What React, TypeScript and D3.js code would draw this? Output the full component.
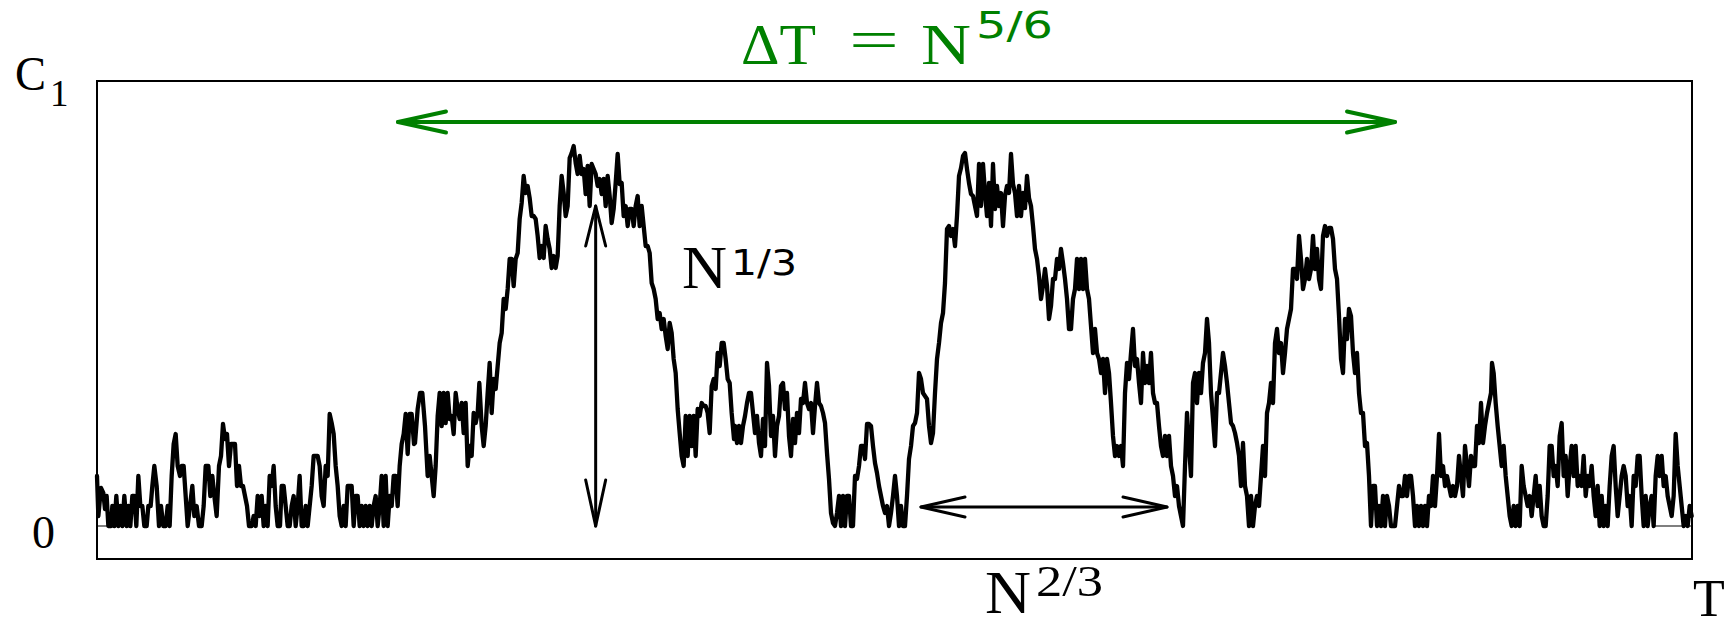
import React from "react";
import * as d3 from "d3";

const W = 1729;
const H = 627;

// Length of the recorded time window
const T_MAX = 4785;

// C1(T) trace, stored as [T, C1] vertices, stretch by stretch
const quietLead: [number, number][] = [
  [0,5],[4,1],[12,3.8],[19,3.3],[24,1.7],[29,3],[34,0],[42,0],[46,2],[52,0],[58,3],[64,0],[70,2],[76,0],[82,3],[89,0],[94,2],[100,0],[106,3],[112,3],[118,0],[124,5],[130,2],[136,2],[142,0],[149,0],[154,2],[161,2],[166,4],[172,6],[179,4],[186,0],[192,2],[199,0],[206,0],[212,2],[218,0],[224,5],[230,8.2],[236,9.2],[242,6],[249,5],[254,6],[260,6],[266,3],[272,0],[279,2],[286,4],[292,1],[299,2],[306,0],[314,0],[320,2],[326,6],[334,6],[340,3],[346,5],[352,3],[359,1],[366,6],[372,7],[378,10.2],[384,8.7],[390,9.2],[396,6],[402,8.2],[408,8.2],[414,8.2],[420,4],[426,6],[432,4],[438,4],[444,3],[450,2],[456,0],[464,0],[470,1],[476,0],[482,3],[488,1],[494,3],[500,0],[506,2],[512,0],[518,5],[524,4],[530,6],[536,2],[542,0],[549,0],[554,4],[560,4],[566,2],[572,0],[578,0],[584,2],[590,3],[596,0],[602,2],[608,5],[614,0],[620,0],[626,2],[632,0],[638,2],[644,4],[650,7],[656,7],[662,7],[668,6],[674,3],[680,2],[686,6],[692,5],[698,11.2],[704,10.3],[710,9.2],[716,6],[722,4],[728,1],[734,0],[740,2],[746,0],[752,4],[758,4],[764,4],[770,0],[776,3],[782,3],[788,0],[794,2],[800,0],[806,2],[812,0],[818,2],[824,0],[830,2],[836,3],[842,0],[848,2],[854,5],[860,0],[866,5],[872,0],[878,3],[884,2],[890,5],[896,5],[902,2],[908,6],[914,8.2],[920,9.2],[926,11.2],[932,7.2],[938,11.2],[944,11.2],[951,8.2],
];

const firstHump: [number, number][] = [
  [954,8.3],[962,11.7],[969,13.3],[976,13.3],[984,10],[992,5],[998,7],[1004,5],[1010,3],[1016,6],[1022,11],[1028,13.3],[1034,10],[1040,13.3],[1046,10.3],[1052,13.3],[1058,10.7],[1064,11],[1070,9.2],[1076,13.3],[1082,11.7],[1088,10.7],[1094,12.3],[1100,9.3],[1106,12.3],[1112,6],[1118,8],[1124,7],[1130,11.3],[1136,10.3],[1142,11.3],[1147,14.3],[1154,10],[1160,8],[1166,10],[1172,13.3],[1178,16.3],[1184,11.3],[1190,14.7],[1196,13.7],[1202,16],[1208,18.3],[1214,19.3],[1220,22.7],[1226,21.7],[1232,23.7],[1238,26.7],[1244,26.7],[1250,24],[1256,26.7],[1262,27.3],[1268,30.7],[1274,32.3],[1280,35],[1286,33.3],[1292,34],[1298,32.8],[1304,31],[1310,31],[1316,30.7],[1322,29],[1328,26.8],[1334,28],[1340,26.8],[1346,30],[1352,28.7],[1358,27.7],[1364,25.8],[1370,27],[1376,25.8],[1382,27],[1388,32],[1394,35],[1400,33.3],[1406,31],[1412,32],[1418,36.8],[1424,37.3],[1430,38],[1436,36.3],[1442,35.2],[1448,37],[1454,35.2],[1460,35.7],[1466,33.2],[1472,36],[1478,32],[1484,36.2],[1490,35.7],[1496,35.2],[1502,34],[1508,34.7],[1514,33.2],[1520,34.7],[1526,32],[1532,35],[1538,33],[1544,30.3],[1550,31.7],[1556,34.3],[1562,37.2],[1568,34.2],[1574,34.3],[1580,31],[1586,32],[1592,30],[1598,31.7],[1604,31.7],[1610,30],[1616,32],[1622,33],[1628,30],[1634,32],[1640,30],[1646,28],[1652,28],[1658,27.3],[1664,24.3],[1670,23.7],[1676,22.7],[1682,20.7],[1688,21.3],[1694,19.7],[1700,20.7],[1706,19],[1712,17.7],[1718,20.3],[1724,19.3],[1730,16.7],[1736,15.3],[1742,11.7],[1748,9.3],[1754,7],[1760,6],[1766,11],[1772,7],[1778,11],[1784,8],[1790,11],[1796,7],[1802,11.7],[1808,11],[1814,12.3],[1820,12],[1826,12],[1832,11.3],[1838,9.3],[1844,14],[1850,14.7],[1856,13.7],[1862,17.3],[1868,16],[1874,18.3],[1880,18.3],[1886,16.7],[1892,14.7],[1898,14.3],[1904,11.3],[1911,8.7],
];

const secondHump: [number, number][] = [
  [1914,10],[1920,8.3],[1926,10],[1932,8.3],[1938,10],[1944,11],[1950,12.3],[1956,13.3],[1962,13.3],[1968,11.3],[1974,9.3],[1980,11],[1986,8.3],[1992,7],[1998,10.7],[2004,8],[2010,16.3],[2016,14],[2022,9],[2028,11],[2034,7],[2040,10],[2046,11],[2052,14],[2058,14.3],[2064,11.7],[2070,13.3],[2076,9],[2082,7],[2088,10.7],[2094,8.3],[2100,11.3],[2106,9.3],[2112,12.7],[2118,12.3],[2124,14.3],[2130,12.3],[2136,11.7],[2142,12.3],[2148,9.3],[2154,12],[2160,14.3],[2166,12.3],[2172,12],[2178,11.3],[2184,10.3],[2190,7.3],[2196,4.7],[2202,1.3],[2208,0.3],[2214,0],[2220,1.3],[2226,3],[2232,0],[2238,3],[2244,0],[2250,3],[2256,3],[2262,0],[2268,0],[2274,5],[2280,4.7],[2286,6],[2292,8],[2298,8],[2304,6.7],[2310,10.2],[2316,10.2],[2322,10],[2328,8],[2334,6.3],[2340,5.3],[2346,4],[2352,3],[2358,2],[2364,1.3],[2370,2],[2376,0],[2382,1.3],[2388,3],[2394,5],[2400,3],[2406,0],[2412,2],[2418,0],[2424,0],[2430,3],[2436,6.7],[2442,8],[2448,10],[2454,10.3],[2460,11.3],[2466,15.3],[2472,14.7],[2478,13.3],[2484,13],[2490,12.7],[2496,10],[2502,8.3],[2508,9.3],[2514,13.3],[2520,16.7],[2526,18.3],[2532,20.3],[2538,21.3],[2544,24.3],[2550,29.7],[2556,30],[2562,29],[2568,29.7],[2574,28],[2580,31],[2586,35],[2592,35.8],[2598,37],[2604,37.3],[2610,35.7],[2616,34.3],[2622,33.2],[2628,33],[2634,32],[2640,31],[2646,36.2],[2652,32],[2658,36.2],[2664,33.3],[2670,31],[2676,34.3],[2682,30],[2688,36.2],[2694,31.7],[2700,34],[2706,32],[2712,33.3],[2718,30],[2724,33],[2730,34],[2736,33.3],[2742,37.2],[2748,34.2],[2754,33.3],[2760,31],[2766,34],[2772,31],[2778,33.3],[2784,31.8],[2790,35],[2796,32.8],[2802,32],[2808,30],[2814,27.7],[2820,26.7],[2826,25],[2832,22.7],[2838,24],[2844,25.7],[2850,24],[2856,20.7],[2862,22],[2868,24.7],
];

const thirdHump: [number, number][] = [
  [2874,24.7],[2880,26.7],[2886,25.7],[2892,27.7],[2898,26.3],[2904,24.7],[2910,22.7],[2916,19.7],[2922,19.7],[2928,22.7],[2934,23.7],[2940,26.7],[2946,23.7],[2952,26.7],[2958,23.7],[2964,26.7],[2970,23.7],[2976,22.7],[2982,20],[2988,17.3],[2994,19.7],[3000,17.3],[3006,16.7],[3012,15.3],[3018,16.7],[3024,13.3],[3030,16.7],[3036,15.3],[3042,12.3],[3048,9],[3054,7],[3060,8],[3066,7],[3072,8],[3078,6],[3084,13.3],[3090,16.3],[3096,14.7],[3102,17.3],[3108,19.7],[3114,16],[3120,16.7],[3126,14.3],[3132,12.3],[3138,17.3],[3144,14.3],[3150,16],[3156,14.3],[3162,17.3],[3168,13.3],[3174,12.3],[3180,12.3],[3186,10],[3192,8],[3198,7],[3204,9],[3210,7],[3216,9],[3222,6],[3228,5],[3234,3],[3240,4],[3246,2],[3252,1],[3258,0],[3264,6],[3270,11.3],[3276,8],[3282,5],[3288,14.3],[3294,15.3],[3300,12.3],[3306,15.3],[3312,13.3],[3318,16.3],[3324,17.3],[3330,20.7],[3336,18.3],[3342,13.3],[3348,10.7],[3354,8],[3360,13.3],[3366,13.3],[3372,15.3],[3378,17.3],[3384,16],[3390,14.3],[3396,12.3],[3402,10.3],[3408,10],[3414,9.3],[3420,8.3],[3426,7],[3432,4],[3438,8.3],[3444,4],[3450,3],[3456,0],[3462,3],[3468,0],[3474,2],[3480,3],[3486,2],[3492,5],[3498,8],[3504,5],[3510,11.3],[3516,12.3],[3522,14.3],[3528,12.3],[3534,18.3],[3540,19.7],[3546,17.3],[3552,18.3],[3558,15.3],[3564,17.3],[3570,19.7],[3576,20.7],[3582,21.7],[3588,25.7],[3594,25.7],[3600,24.7],[3606,29],[3612,26.7],[3618,23.7],[3624,24.7],[3630,26.7],[3636,24.7],[3642,25.7],[3648,29],[3654,25.7],[3660,27.7],[3666,24.7],[3672,23.7],[3678,29],[3684,30],[3690,29],[3696,29.8],[3702,29.8],[3708,28.7],[3714,25.7],[3720,24.7],[3726,21],[3732,16.7],[3738,15.3],[3744,20.7],[3750,18.7],[3756,21.7],[3762,21],[3768,17.3],[3774,15.3],[3780,17.3],[3786,13.3],[3792,11.3],[3798,11.3],[3804,8],[3810,8.3],[3816,5],[3822,0],[3828,4],
];

const quietTail: [number, number][] = [
  [3834,4],[3840,0],[3846,2],[3852,0],[3858,3],[3864,0],[3870,3],[3876,2],[3882,0],[3894,0],[3900,2],[3906,4],[3912,3],[3918,3],[3924,5],[3930,3],[3936,5],[3942,5],[3948,3],[3954,0],[3960,2],[3966,0],[3972,2],[3978,0],[3984,2],[3990,0],[3996,3],[4002,2],[4008,5],[4014,2],[4020,5],[4026,9.2],[4032,5],[4038,6],[4044,4],[4050,5],[4056,4],[4062,3],[4068,4],[4074,3],[4080,4],[4086,7],[4092,5],[4098,3],[4104,8],[4110,6],[4116,4],[4122,7],[4128,6],[4134,6],[4140,10],[4146,8.3],[4152,12.3],[4158,8.3],[4164,10],[4170,11.3],[4176,12.3],[4182,13.3],[4185,16.3],[4190,15.3],[4196,12.3],[4202,10],[4208,8],[4214,6],[4220,8],[4226,5],[4232,3],[4238,1],[4244,0],[4250,2],[4256,0],[4262,2],[4268,0],[4274,6],[4280,4],[4286,3],[4292,2],[4298,3],[4304,1],[4310,3],[4316,5],[4322,2],[4328,4],[4334,1],[4340,0],[4346,0],[4352,3],[4358,8],[4364,8],[4370,5],[4376,6],[4382,4],[4388,9],[4394,10.3],[4400,5],[4406,7],[4412,3],[4418,6],[4424,8],[4430,5],[4436,8],[4442,4],[4448,5],[4454,4],[4460,7],[4466,3],[4472,5],[4478,4],[4484,6],[4490,3],[4496,1],[4502,4],[4508,0],[4514,3],[4520,0],[4526,2],[4532,0],[4538,4],[4544,7],[4550,8],[4556,4],[4562,1],[4568,3],[4574,5],[4580,6],[4586,5],[4592,2],[4598,3],[4604,0],[4610,5],[4616,4],[4622,7],[4628,7],[4634,3],[4640,0],[4646,3],[4652,0],[4658,2],[4664,3],[4670,0],[4676,5],[4682,7],[4688,5],[4694,7],[4700,4],[4706,5],[4712,3],[4718,2],[4724,1],[4730,3],[4736,9.2],[4742,6],[4748,4],[4754,2],[4760,0],[4766,1],[4772,0],[4778,2],[4784,1],
];

// Annotation extents, in data units
const spanT: [number, number] = [903, 3894]; // ΔT window, drawn at C1 = 40.4
const spanTLevel = 40.4;
const heightArrowT = 1496; // N^{1/3} amplitude marker
const heightRange: [number, number] = [0, 32];
const widthSpan: [number, number] = [2472, 3210]; // N^{2/3} width marker
const widthLevel = 1.9;

const GREEN = "#008000";
const SERIF = "'Liberation Serif', 'DejaVu Serif', serif";
const SANS = "'DejaVu Sans', 'Liberation Sans', sans-serif";

function openHead(tipX: number, tipY: number, dx: number, dy: number, len: number, half: number) {
  const n = Math.hypot(dx, dy);
  const ux = dx / n, uy = dy / n;
  const bx = tipX - ux * len, by = tipY - uy * len;
  const px = -uy, py = ux;
  return `${bx + px * half},${by + py * half} ${tipX},${tipY} ${bx - px * half},${by - py * half}`;
}

export default function App() {
  const left = 97, right = 1692, top = 81, bottom = 559;
  const x = d3.scaleLinear().domain([0, T_MAX]).range([left, right]);
  const y = d3.scaleLinear().domain([-3.3, 44.5]).range([bottom, top]);

  const trace = [...quietLead, ...firstHump, ...secondHump, ...thirdHump, ...quietTail];
  const path = d3.line<[number, number]>().x(d => x(d[0])).y(d => y(d[1]))(trace) || "";

  const gx0 = x(spanT[0]), gx1 = x(spanT[1]), gy = y(spanTLevel);
  const vx = x(heightArrowT), vy0 = y(heightRange[0]), vy1 = y(heightRange[1]);
  const hx0 = x(widthSpan[0]), hx1 = x(widthSpan[1]), hy = y(widthLevel);
  const zeroY = y(0);

  return (
    <svg width={W} height={H} style={{ position: "absolute", left: 0, top: 0, background: "#fff" }}>
      <rect x={0} y={0} width={W} height={H} fill="#fff" />

      {/* zero-level ticks on both sides */}
      <line x1={left} x2={left + 35} y1={zeroY} y2={zeroY} stroke="#000" strokeWidth={1.2} />
      <line x1={right - 37} x2={right} y1={zeroY} y2={zeroY} stroke="#000" strokeWidth={1.2} />

      {/* C1 trace */}
      <path d={path} fill="none" stroke="#000" strokeWidth={4.3} strokeLinejoin="round" strokeLinecap="round" />

      {/* frame */}
      <rect x={left} y={top} width={right - left} height={bottom - top} fill="none" stroke="#000" strokeWidth={2} />

      {/* ΔT window arrow */}
      <g stroke={GREEN} strokeWidth={4} fill="none" strokeLinecap="round" strokeLinejoin="round">
        <line x1={gx0} x2={gx1} y1={gy} y2={gy} />
        <polyline points={openHead(gx0, gy, -1, 0, 48, 10.5)} />
        <polyline points={openHead(gx1, gy, 1, 0, 48, 10.5)} />
      </g>

      {/* amplitude arrow */}
      <g stroke="#000" strokeWidth={3} fill="none" strokeLinecap="round" strokeLinejoin="round">
        <line x1={vx} x2={vx} y1={vy0} y2={vy1} />
        <polyline points={openHead(vx, vy1, 0, -1, 40, 10)} />
        <polyline points={openHead(vx, vy0, 0, 1, 46, 10)} />
      </g>

      {/* width arrow */}
      <g stroke="#000" strokeWidth={3} fill="none" strokeLinecap="round" strokeLinejoin="round">
        <line x1={hx0} x2={hx1} y1={hy} y2={hy} />
        <polyline points={openHead(hx0, hy, -1, 0, 44, 10)} />
        <polyline points={openHead(hx1, hy, 1, 0, 44, 10)} />
      </g>

      {/* axis labels */}
      <text x={15} y={90} fontFamily={SERIF} fontSize={48} textLength={31} lengthAdjust="spacingAndGlyphs">C</text>
      <text x={50} y={106} fontFamily={SERIF} fontSize={37}>1</text>
      <text x={32} y={548} fontFamily={SERIF} fontSize={46}>0</text>
      <text x={1693} y={616} fontFamily={SERIF} fontSize={52}>T</text>

      {/* title */}
      <g fill={GREEN}>
        <text x={741} y={64} fontFamily={SERIF} fontSize={56} textLength={75} lengthAdjust="spacingAndGlyphs">ΔT</text>
        <text x={849} y={59} fontFamily={SERIF} fontSize={56} textLength={50} lengthAdjust="spacingAndGlyphs">=</text>
        <text x={921} y={64} fontFamily={SERIF} fontSize={56} textLength={50} lengthAdjust="spacingAndGlyphs">N</text>
        <text x={976} y={38} fontFamily={SANS} fontSize={38} textLength={77} lengthAdjust="spacingAndGlyphs">5/6</text>
      </g>

      {/* N^{1/3} */}
      <text x={682} y={288} fontFamily={SERIF} fontSize={62} textLength={45} lengthAdjust="spacingAndGlyphs">N</text>
      <text x={731} y={275} fontFamily={SANS} fontSize={36} textLength={66} lengthAdjust="spacingAndGlyphs">1/3</text>

      {/* N^{2/3} */}
      <text x={985} y={613} fontFamily={SERIF} fontSize={62} textLength={46} lengthAdjust="spacingAndGlyphs">N</text>
      <text x={1036} y={596} fontFamily={SERIF} fontSize={44} textLength={67} lengthAdjust="spacingAndGlyphs">2/3</text>
    </svg>
  );
}
